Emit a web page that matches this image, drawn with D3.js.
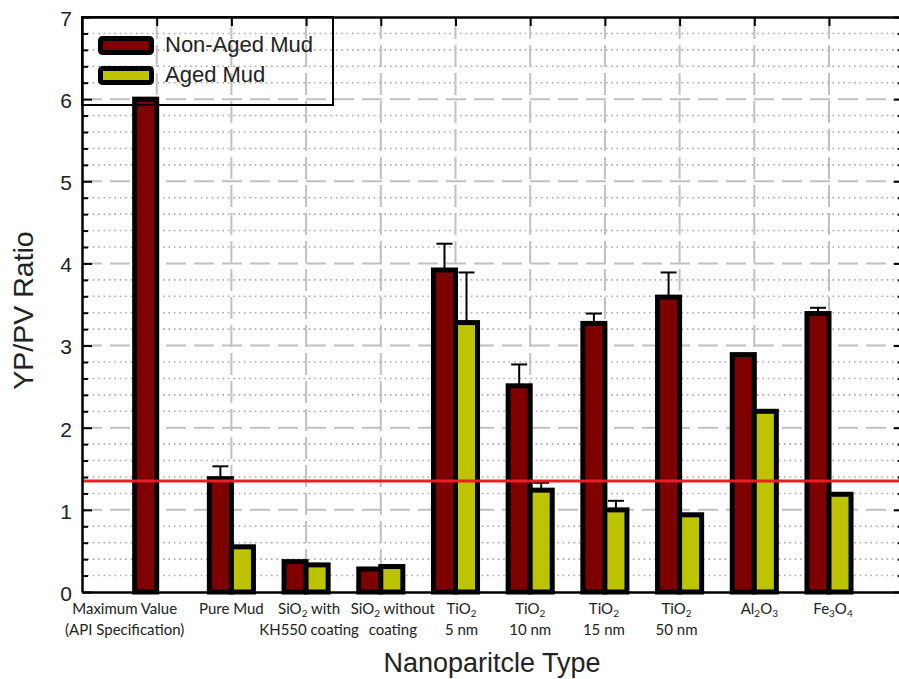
<!DOCTYPE html>
<html>
<head>
<meta charset="utf-8">
<script src="https://cdn.jsdelivr.net/npm/d3@7"></script>
<style>
  html, body { margin: 0; padding: 0; background: #fff; }
  svg { display: block; }
</style>
</head>
<body>
<svg id="chart" width="899" height="679"></svg>
<script>
// Category labels: each entry is [line 1, line 2]; "_n" marks a subscript digit.
const categories = [
  ["Maximum  Value", "(API Specification)"],
  ["Pure Mud", ""],
  ["SiO_2 with", "KH550 coating"],
  ["SiO_2 without", "coating"],
  ["TiO_2", "5 nm"],
  ["TiO_2", "10 nm"],
  ["TiO_2", "15 nm"],
  ["TiO_2", "50 nm"],
  ["Al_2O_3", ""],
  ["Fe_3O_4", ""]
];

// YP/PV ratio, mud before ageing (first entry is the API maximum)
const nonAged    = [6.00, 1.38, 0.37, 0.28, 3.92, 2.51, 3.27, 3.59, 2.89, 3.39];
const nonAgedErr = [0,    0.15, 0,    0,    0.32, 0.26, 0.12, 0.30, 0,    0.07];

// YP/PV ratio, mud after ageing
const aged    = [null, 0.55, 0.33, 0.31, 3.28, 1.24, 1.00, 0.94, 2.20, 1.19];
const agedErr = [0,    0,    0,    0,    0.61, 0.09, 0.11, 0,    0,    0];

// Horizontal reference ratio
const referenceRatio = 1.35;

const yTicks = [0, 1, 2, 3, 4, 5, 6, 7];
const seriesNames = ["Non-Aged Mud", "Aged Mud"];

// ---------------------------------------------------------------
const COLORS = { nonAged: "#7f0000", aged: "#bec300", ref: "#ee1c24" };
const svg = d3.select("#chart");

const x = d3.scaleLinear().domain([0, categories.length + 1]).range([82, 903.7]);
const y = d3.scaleLinear().domain([0, 7]).range([592, 17]);

const step = x(1) - x(0);
const barW = step * 0.295;

// Grid -----------------------------------------------------------
const grid = svg.append("g");
const minorVals = d3.range(1, 35).map(d => d / 5).filter(v => Math.abs(v - Math.round(v)) > 1e-6);
grid.selectAll("line.minor").data(minorVals).join("line")
  .attr("x1", x(0)).attr("x2", x(categories.length + 1))
  .attr("y1", d => y(d)).attr("y2", d => y(d))
  .attr("stroke", "#aaaaaa").attr("stroke-width", 1.6)
  .attr("stroke-dasharray", "1.6,3.8");

grid.selectAll("line.major").data(yTicks.filter(v => v > 0 && v < 7)).join("line")
  .attr("x1", x(0)).attr("x2", x(categories.length + 1))
  .attr("y1", d => y(d)).attr("y2", d => y(d))
  .attr("stroke", "#c0c0c0").attr("stroke-width", 2)
  .attr("stroke-dasharray", "20,8");

grid.selectAll("line.vert").data(d3.range(1, categories.length + 1)).join("line")
  .attr("x1", d => x(d)).attr("x2", d => x(d))
  .attr("y1", y(7)).attr("y2", y(0))
  .attr("stroke", "#c0c0c0").attr("stroke-width", 2)
  .attr("stroke-dasharray", "22,6");

// Legend frame (transparent, drawn beneath the bars)
const legend = svg.append("g");
legend.append("rect")
  .attr("x", x(0)).attr("y", y(7))
  .attr("width", 251).attr("height", 88)
  .attr("fill", "none").attr("stroke", "#000").attr("stroke-width", 2);

// Bars -----------------------------------------------------------
const bars = svg.append("g").attr("stroke", "#000").attr("stroke-width", 5)
  .attr("stroke-linejoin", "miter");

bars.selectAll("rect.na").data(nonAged).join("rect")
  .attr("x", (d, i) => x(i + 1) - barW)
  .attr("y", d => y(d))
  .attr("width", barW)
  .attr("height", d => y(0) - y(d))
  .attr("fill", COLORS.nonAged);

bars.selectAll("rect.ag").data(aged.map((v, i) => ({ v, i })).filter(d => d.v != null)).join("rect")
  .attr("x", d => x(d.i + 1))
  .attr("y", d => y(d.v))
  .attr("width", barW)
  .attr("height", d => y(0) - y(d.v))
  .attr("fill", COLORS.aged);

// Error bars (upper half only)
const errs = [];
nonAged.forEach((v, i) => { if (nonAgedErr[i] > 0) errs.push({ cx: x(i + 1) - barW / 2, v, e: nonAgedErr[i] }); });
aged.forEach((v, i) => { if (v != null && agedErr[i] > 0) errs.push({ cx: x(i + 1) + barW / 2, v, e: agedErr[i] }); });

const eg = svg.append("g").attr("stroke", "#000").attr("stroke-width", 2);
eg.selectAll("line.stem").data(errs).join("line")
  .attr("x1", d => d.cx).attr("x2", d => d.cx)
  .attr("y1", d => y(d.v)).attr("y2", d => y(d.v + d.e));
eg.selectAll("line.cap").data(errs).join("line")
  .attr("x1", d => d.cx - 8).attr("x2", d => d.cx + 8)
  .attr("y1", d => y(d.v + d.e)).attr("y2", d => y(d.v + d.e));

// Reference line
svg.append("line")
  .attr("x1", x(0)).attr("x2", x(categories.length + 1))
  .attr("y1", y(referenceRatio)).attr("y2", y(referenceRatio))
  .attr("stroke", COLORS.ref).attr("stroke-width", 3);

// Axes -----------------------------------------------------------
function styleAxis(g, width) {
  g.select(".domain").attr("stroke", "#000").attr("stroke-width", width);
  g.selectAll(".tick line").attr("stroke", "#000").attr("stroke-width", 2);
}

const leftAxis = svg.append("g").attr("transform", `translate(${x(0)},0)`)
  .call(d3.axisLeft(y).tickValues(yTicks).tickSizeInner(-10).tickSizeOuter(0).tickPadding(10).tickFormat(d3.format("d")));
styleAxis(leftAxis, 2);
leftAxis.selectAll(".tick text")
  .attr("font-family", "Liberation Sans, Arial, sans-serif")
  .attr("font-size", 21).attr("fill", "#222").attr("dy", "0.4em");

const leftMinor = svg.append("g").attr("transform", `translate(${x(0)},0)`)
  .call(d3.axisLeft(y).tickValues(minorVals).tickSizeInner(-6).tickSizeOuter(0).tickFormat(""));
styleAxis(leftMinor, 2);

const rightX = x(categories.length + 1);
const rightAxis = svg.append("g").attr("transform", `translate(${rightX},0)`)
  .call(d3.axisRight(y).tickValues(yTicks).tickSizeInner(-10).tickSizeOuter(0).tickFormat(""));
styleAxis(rightAxis, 2);
const rightMinor = svg.append("g").attr("transform", `translate(${rightX},0)`)
  .call(d3.axisRight(y).tickValues(minorVals).tickSizeInner(-6).tickSizeOuter(0).tickFormat(""));
styleAxis(rightMinor, 2);

const topAxis = svg.append("g").attr("transform", `translate(0,${y(7)})`)
  .call(d3.axisTop(x).tickValues(d3.range(1, categories.length + 1)).tickSizeInner(-9).tickSizeOuter(0).tickFormat(""));
styleAxis(topAxis, 2.5);

const bottomAxis = svg.append("g").attr("transform", `translate(0,${y(0)})`)
  .call(d3.axisBottom(x).tickValues(d3.range(1, categories.length + 1)).tickSizeInner(-8).tickSizeOuter(0).tickFormat(""));
styleAxis(bottomAxis, 2.5);

// Legend entries
const legendFill = [COLORS.nonAged, COLORS.aged];
seriesNames.forEach((name, i) => {
  const yy = 38.5 + i * 30;
  legend.append("rect")
    .attr("x", 100.5).attr("y", yy).attr("width", 51).attr("height", 14)
    .attr("rx", 2).attr("fill", legendFill[i])
    .attr("stroke", "#000").attr("stroke-width", 5);
  legend.append("text")
    .attr("x", 165).attr("y", yy + 13)
    .attr("font-family", "Liberation Sans, Arial, sans-serif")
    .attr("font-size", 22).attr("fill", "#222")
    .text(name);
});
legend.raise();

// Category labels ------------------------------------------------
const labelDx = [-32, 0, 3, 12, 6, 0, -1, -3, 5, 4];
function addRich(textSel, str) {
  const parts = str.split(/_(\d)/);
  parts.forEach((p, k) => {
    if (p === "") return;
    if (k % 2 === 1) {
      textSel.append("tspan").attr("font-size", 10).attr("dy", 3).text(p);
    } else {
      const t = textSel.append("tspan").text(p);
      if (k > 0) t.attr("dy", -3);
    }
  });
}
const labels = svg.append("g")
  .attr("font-family", "Lato, 'Open Sans', sans-serif")
  .attr("font-size", 15).attr("fill", "#222").attr("text-anchor", "middle")
  .style("white-space", "pre");
categories.forEach((lines, i) => {
  lines.forEach((line, j) => {
    if (!line) return;
    const t = labels.append("text")
      .attr("x", x(i + 1) + labelDx[i])
      .attr("y", j === 0 ? 613.5 : 634.5);
    addRich(t, line);
  });
});

// Axis titles
svg.append("text")
  .attr("transform", `translate(33,${(y(0) + y(7)) / 2 + 6}) rotate(-90)`)
  .attr("text-anchor", "middle")
  .attr("font-family", "Liberation Sans, Arial, sans-serif")
  .attr("font-size", 28.5).attr("fill", "#222")
  .text("YP/PV Ratio");

svg.append("text")
  .attr("x", 492).attr("y", 672)
  .attr("text-anchor", "middle")
  .attr("font-family", "Liberation Sans, Arial, sans-serif")
  .attr("font-size", 27).attr("fill", "#222")
  .text("Nanoparitcle Type");
</script>
</body>
</html>
